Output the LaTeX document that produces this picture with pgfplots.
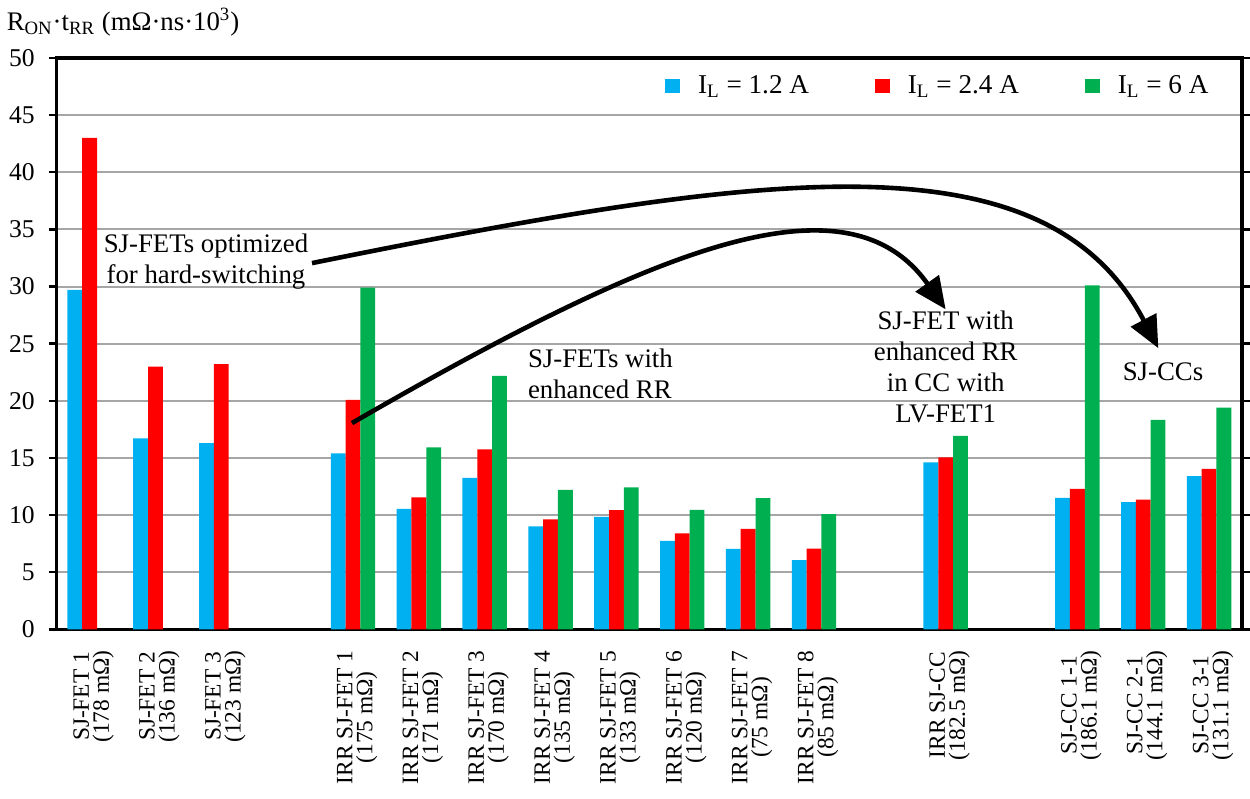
\documentclass[border=0pt]{standalone}
\usepackage{fontspec}
\setmainfont{Liberation Serif}
\usepackage{pgfplots}
\pgfplotsset{compat=1.18}
\usetikzlibrary{arrows.meta}
\definecolor{cblue}{HTML}{00B0F0}
\definecolor{cred}{HTML}{FF0000}
\definecolor{cgreen}{HTML}{00B050}
\newcommand{\annfont}{\fontsize{13.4}{15.5}\selectfont}
\begin{document}
\begin{tikzpicture}
\path[use as bounding box] (-28.35pt,-84.85pt) rectangle (596.65pt,314.65pt);
\begin{axis}[
  at={(0pt,0pt)}, anchor=south west,
  scale only axis, width=592.65pt, height=285.65pt,
  clip=false,
  xmin=-0.5, xmax=17.5, ymin=0, ymax=50,
  ytick={0,5,...,50},
  xtick={0,1,2,4,5,6,7,8,9,10,11,13,15,16,17},
  xticklabels={
    {SJ-FET 1\\(178 mΩ)},
    {SJ-FET 2\\(136 mΩ)},
    {SJ-FET 3\\(123 mΩ)},
    {IRR SJ-FET 1\\(175 mΩ)},
    {IRR SJ-FET 2\\(171 mΩ)},
    {IRR SJ-FET 3\\(170 mΩ)},
    {IRR SJ-FET 4\\(135 mΩ)},
    {IRR SJ-FET 5\\(133 mΩ)},
    {IRR SJ-FET 6\\(120 mΩ)},
    {IRR SJ-FET 7\\(75 mΩ)},
    {IRR SJ-FET 8\\(85 mΩ)},
    {IRR SJ-CC\\(182.5 mΩ)},
    {SJ-CC 1-1\\(186.1 mΩ)},
    {SJ-CC 2-1\\(144.1 mΩ)},
    {SJ-CC 3-1\\(131.1 mΩ)}},
  x tick style={draw=none},
  y tick style={line width=1.2pt, black},
  tick align=outside, major tick length=4pt,
  axis line style={line width=1.6pt},
  ymajorgrids, grid style={line width=1pt, color=gray!70},
  /pgf/number format/assume math mode=true,
  y tick label style={font=\fontsize{12.8}{15}\selectfont},
  yticklabel shift=3.5pt,
  x tick label style={xshift=2pt, rotate=90, anchor=east, align=center, font=\fontsize{11.7}{10}\selectfont},
  xticklabel shift=3pt,
  bar width=0.225,
  legend columns=3,
  legend image code/.code={\draw[#1,/tikz/.cd,draw=none] (0pt,-3.7pt) rectangle (7.4pt,3.7pt);},
  legend style={draw=none, fill=none, at={(0.508,0.951)}, anchor=west,
    font=\fontsize{13.6}{15}\selectfont,
    /tikz/every odd column/.append style={column sep=7pt},
    /tikz/every even column/.append style={column sep=31pt}},
]
\addplot[ybar, bar shift=-0.225, fill=cblue, draw=none] coordinates {
 (0,29.7) (1,16.7) (2,16.3) (4,15.4) (5,10.55) (6,13.25) (7,9.0) (8,9.85)
 (9,7.75) (10,7.03) (11,6.06) (13,14.62) (15,11.5) (16,11.13) (17,13.4)};
\addlegendentry{I\textsubscript{L} = 1.2 A}
\addplot[ybar, bar shift=0, fill=cred, draw=none] coordinates {
 (0,43.0) (1,23.0) (2,23.2) (4,20.07) (5,11.55) (6,15.75) (7,9.62) (8,10.44)
 (9,8.4) (10,8.78) (11,7.05) (13,15.05) (15,12.3) (16,11.34) (17,14.05)};
\addlegendentry{I\textsubscript{L} = 2.4 A}
\addplot[ybar, bar shift=0.225, fill=cgreen, draw=none] coordinates {
 (4,29.9) (5,15.92) (6,22.19) (7,12.21) (8,12.42) (9,10.46) (10,11.49) (11,10.09)
 (13,16.93) (15,30.1) (16,18.33) (17,19.4)};
\addlegendentry{I\textsubscript{L} = 6 A}

\node[align=center, font=\annfont] at (axis cs:1.767,32.2) {SJ-FETs optimized\\for hard-switching};
\node[align=left, anchor=west, font=\annfont] at (axis cs:6.55,22.34) {SJ-FETs with\\enhanced RR};
\node[align=center, font=\annfont] at (axis cs:13.0,22.95) {SJ-FET with\\enhanced RR\\in CC with\\LV-FET1};
\node[font=\annfont] at (axis cs:16.3,22.5) {SJ-CCs};
\draw[line width=2.3pt, -{Triangle[length=16pt, width=14pt]}]
  (axis cs:3.984,18.05) .. controls (axis cs:8.540,33.2) and (axis cs:11.486,40.3) .. (axis cs:13.0,28.0);
\draw[line width=2.3pt, -{Triangle[length=16pt, width=14pt]}]
  (axis cs:3.377,32.05) .. controls (axis cs:10.211,40.0) and (axis cs:14.50,43.6) .. (axis cs:16.23,24.6);
\node[anchor=west, xshift=-28.5pt, yshift=18pt, font=\annfont] at (rel axis cs:0,1)
  {R\textsubscript{ON}·t\textsubscript{RR} (mΩ·ns·10\textsuperscript{3})};
\end{axis}
\end{tikzpicture}
\end{document}
